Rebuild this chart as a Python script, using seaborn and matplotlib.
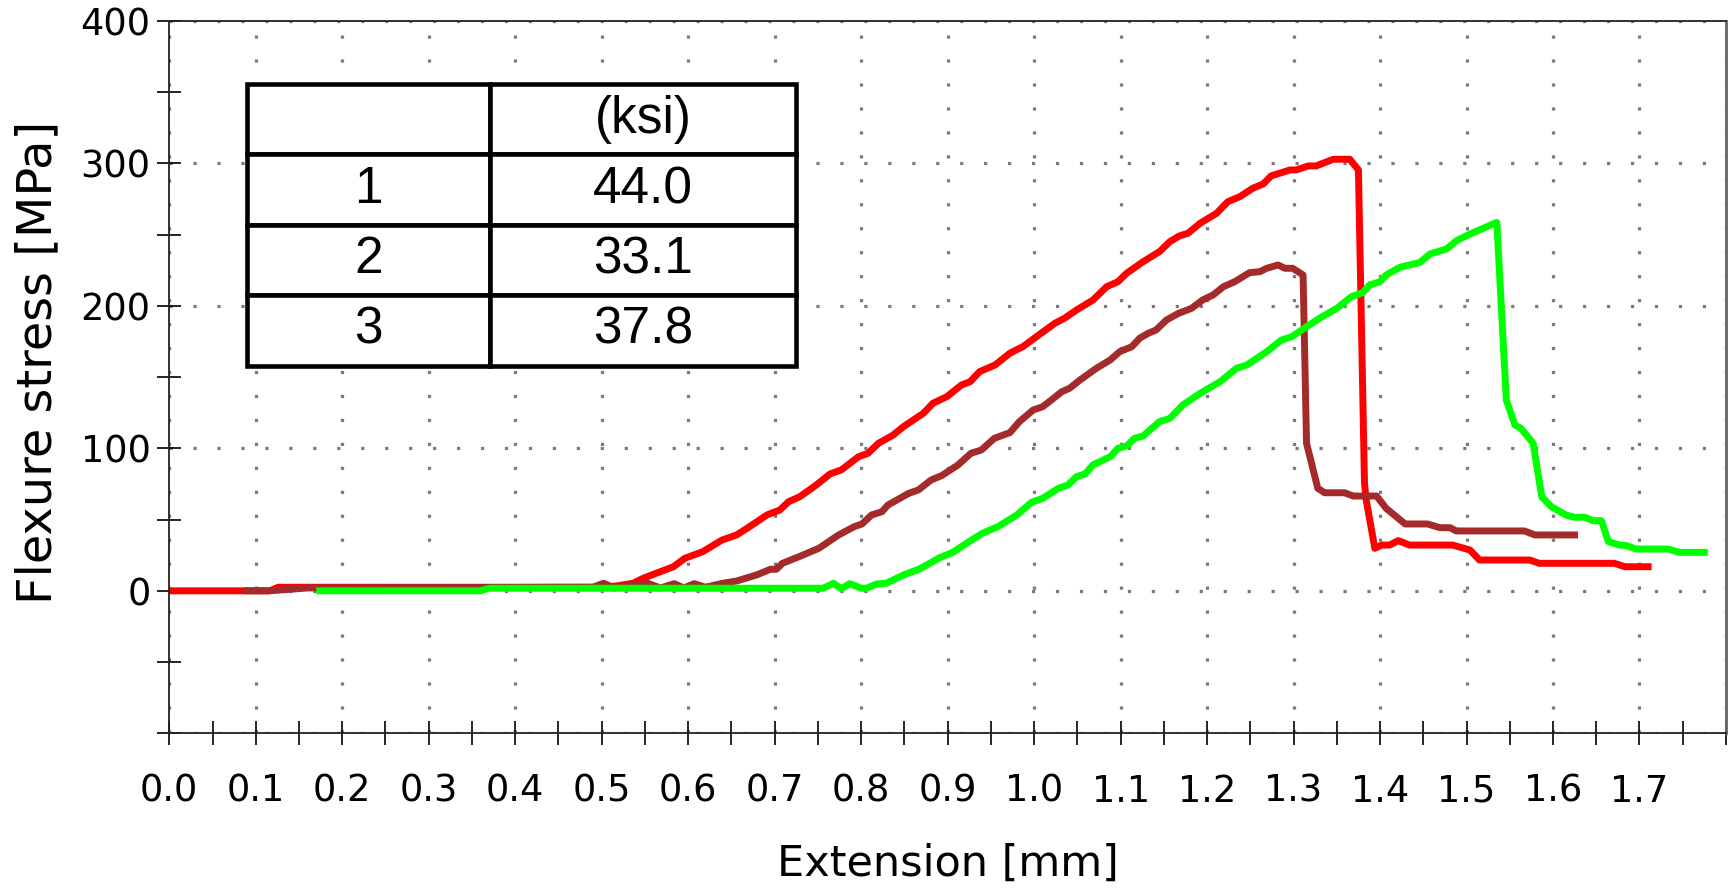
import numpy as np
import pandas as pd
import matplotlib
matplotlib.use("Agg")
import matplotlib.pyplot as plt
import seaborn as sns
from matplotlib.ticker import MultipleLocator

# ---------------- data ----------------
red_x = [0.000, 0.116, 0.126, 0.500, 0.517, 0.536, 0.548, 0.563, 0.583, 0.596,
         0.617, 0.639, 0.656, 0.671, 0.691, 0.706, 0.716, 0.729, 0.748, 0.764,
         0.777, 0.797, 0.808, 0.820, 0.837, 0.849, 0.872, 0.883, 0.899, 0.916,
         0.926, 0.937, 0.955, 0.972, 0.987, 1.009, 1.024, 1.035, 1.049, 1.068,
         1.084, 1.097, 1.107, 1.126, 1.145, 1.157, 1.168, 1.178, 1.192, 1.211,
         1.224, 1.238, 1.253, 1.265, 1.274, 1.296, 1.303, 1.317, 1.326, 1.346,
         1.365, 1.375, 1.382, 1.384, 1.394, 1.402, 1.411, 1.421, 1.434, 1.484,
         1.504, 1.515, 1.573, 1.584, 1.671, 1.683, 1.714]
red_y = [0, 0, 2.5, 2.5, 3.4, 5.3, 8.8, 12.3, 16.9, 22.8,
         27.5, 35.6, 39.2, 45.0, 53.2, 56.7, 62.5, 66.0, 74.2, 82.0,
         84.8, 94.1, 96.5, 103.5, 109.3, 115.2, 124.6, 131.6, 136.2, 144.4,
         146.7, 153.8, 158.5, 166.7, 171.3, 181.1, 187.7, 191.2, 197.0, 204.0,
         213.4, 216.9, 222.8, 230.9, 238.0, 245.0, 249.0, 250.9, 257.9, 264.9,
         273.0, 276.6, 282.5, 285.5, 291.1, 295.3, 295.3, 298.1, 298.1, 302.8,
         302.8, 295.3, 75.4, 63.7, 29.8, 32.1, 32.1, 35.2, 32.1, 32.1,
         28.6, 21.6, 21.6, 19.3, 19.3, 16.9, 16.9]

brown_x = [0.086, 0.115, 0.160, 0.490, 0.502, 0.515, 0.553, 0.568, 0.584, 0.595,
           0.607, 0.620, 0.640, 0.656, 0.679, 0.695, 0.702, 0.709, 0.728, 0.751,
           0.774, 0.792, 0.801, 0.812, 0.824, 0.831, 0.855, 0.866, 0.881, 0.893,
           0.912, 0.927, 0.939, 0.954, 0.972, 0.983, 0.999, 1.010, 1.020, 1.032,
           1.041, 1.053, 1.072, 1.088, 1.099, 1.113, 1.122, 1.132, 1.141, 1.153,
           1.167, 1.182, 1.195, 1.207, 1.219, 1.232, 1.249, 1.261, 1.269, 1.282,
           1.290, 1.299, 1.311, 1.315, 1.328, 1.336, 1.359, 1.369, 1.396, 1.407,
           1.421, 1.429, 1.455, 1.469, 1.481, 1.488, 1.567, 1.579, 1.629]
brown_y = [0, 0, 2.0, 2.5, 5.3, 2.0, 5.3, 2.0, 5.0, 2.0,
           5.0, 2.5, 5.3, 6.9, 11.1, 15.1, 15.1, 19.3, 23.9, 29.8,
           39.2, 45.0, 46.9, 53.2, 55.5, 60.2, 68.4, 70.7, 77.8, 80.8,
           88.3, 96.5, 98.8, 107.0, 111.0, 118.7, 126.9, 129.2, 133.9, 139.7,
           142.1, 147.9, 156.1, 162.0, 167.8, 171.3, 177.2, 180.7, 183.0, 190.0,
           194.7, 198.2, 204.1, 207.6, 213.4, 216.9, 223.2, 223.9, 226.3, 228.6,
           226.3, 226.3, 221.6, 103.5, 71.9, 68.8, 68.8, 66.5, 66.5, 57.9,
           50.9, 46.9, 46.9, 44.3, 44.3, 42.0, 42.0, 39.2, 39.2]

green_x = [0.170, 0.359, 0.370, 0.756, 0.768, 0.777, 0.787, 0.800, 0.806, 0.818,
           0.829, 0.849, 0.868, 0.891, 0.906, 0.924, 0.940, 0.958, 0.980, 0.997,
           1.010, 1.028, 1.039, 1.049, 1.059, 1.068, 1.088, 1.097, 1.107, 1.116,
           1.126, 1.145, 1.157, 1.172, 1.192, 1.215, 1.234, 1.246, 1.269, 1.286,
           1.298, 1.315, 1.330, 1.350, 1.367, 1.380, 1.388, 1.400, 1.407, 1.423,
           1.446, 1.458, 1.477, 1.489, 1.505, 1.535, 1.546, 1.556, 1.563, 1.577,
           1.587, 1.598, 1.615, 1.625, 1.637, 1.646, 1.656, 1.664, 1.677, 1.685,
           1.696, 1.733, 1.746, 1.779]
green_y = [0, 0, 1.8, 1.8, 5.3, 1.5, 5.0, 1.8, 1.8, 4.8,
           5.3, 11.1, 15.5, 23.3, 27.0, 34.2, 40.3, 45.0, 53.2, 62.1,
           64.9, 71.9, 74.2, 80.1, 82.0, 88.3, 94.1, 100.0, 101.6, 107.0,
           108.6, 118.7, 121.0, 130.4, 138.6, 146.7, 156.1, 158.5, 167.8, 176.0,
           178.3, 185.3, 191.2, 198.2, 206.4, 209.2, 214.6, 216.9, 221.6, 227.0,
           230.4, 236.4, 239.9, 245.9, 250.6, 258.5, 133.9, 116.3, 114.0, 103.5,
           66.0, 59.0, 53.2, 51.6, 51.6, 49.2, 49.2, 34.5, 32.1, 31.7,
           29.3, 29.3, 27.0, 27.0]

series_names = ["1", "2", "3"]
series_colors = ["#FF0000", "#A52A2A", "#00FF00"]

table_header = ["", "(ksi)"]
specimen_ids = ["1", "2", "3"]
strength_ksi = ["44.0", "33.1", "37.8"]

x_tick_values = [round(0.1 * i, 1) for i in range(19)]
x_tick_labels = ["0.0", "0.1", "0.2", "0.3", "0.4", "0.5", "0.6", "0.7", "0.8",
                 "0.9", "1.0", "1.1", "1.2", "1.3", "1.4", "1.5", "1.6", "1.7", ""]
y_tick_values = [-100, 0, 100, 200, 300, 400]
y_tick_labels = ["", "0", "100", "200", "300", "400"]

# ---------------- build frame ----------------
frames = []
for name, xs, ys in zip(series_names, [red_x, brown_x, green_x], [red_y, brown_y, green_y]):
    frames.append(pd.DataFrame({"Extension": xs, "Stress": ys, "Specimen": name}))
df = pd.concat(frames, ignore_index=True)

# ---------------- plot ----------------
sns.set_theme(style="white")
plt.rcParams['font.family'] = ['DejaVu Sans']
plt.rcParams.update({"text.color": "black", "axes.labelcolor": "black",
                     "xtick.color": "black", "ytick.color": "black"})

fig = plt.figure(figsize=(17.31, 8.89), dpi=100)
ax = fig.add_axes([0.0978, 0.1751, 0.8993, 0.8016])

sns.lineplot(data=df, x="Extension", y="Stress", hue="Specimen",
             palette=dict(zip(series_names, series_colors)),
             sort=False, estimator=None, legend=False, ax=ax,
             linewidth=5.0, solid_joinstyle="round", solid_capstyle="butt")

ax.set_xlim(0, 1.8)
ax.set_ylim(-100, 400)

ax.set_xticks(x_tick_values)
ax.set_xticklabels(x_tick_labels)
ax.set_yticks(y_tick_values)
ax.set_yticklabels(y_tick_labels)
ax.xaxis.set_minor_locator(MultipleLocator(0.05))
ax.yaxis.set_minor_locator(MultipleLocator(50))

ax.tick_params(which="both", direction="inout", length=17, width=1.2,
               color="black", labelcolor="black",
               bottom=True, left=True, top=False, right=False)
ax.tick_params(axis="x", which="major", labelsize=26.5, pad=20)
ax.tick_params(axis="y", which="major", labelsize=26.5, pad=5)

ax.grid(True, which="major", color="#7a7a7a", linestyle=(0, (1, 6.5)), linewidth=2.3)
ax.set_axisbelow(True)

for side, sp in ax.spines.items():
    sp.set_visible(True)
    sp.set_color("#222222")
    sp.set_linewidth(1.3)
ax.spines["right"].set_color("#666666")
ax.spines["right"].set_linewidth(2.0)

ax.set_xlabel("Extension [mm]", fontsize=31, color="black")
ax.xaxis.set_label_coords(0.5, -0.154)
ax.set_ylabel("Flexure stress [MPa]", fontsize=34.5, color="black")
ax.yaxis.set_label_coords(-0.0696, 0.521)

cell_text = [[s, v] for s, v in zip(specimen_ids, strength_ksi)]
tbl = ax.table(cellText=cell_text, colLabels=table_header, cellLoc="center",
               colWidths=[0.4426, 0.5574], bbox=[0.0499, 0.5161, 0.3527, 0.395])
tbl.set_zorder(5)
tbl.auto_set_font_size(False)
tbl.set_fontsize(37)
for cell in tbl.get_celld().values():
    cell.set_linewidth(3.3)
    cell.set_edgecolor("black")
    cell.set_facecolor("white")
    cell.get_text().set_fontfamily("Liberation Sans")
    cell.get_text().set_fontsize(37)
    cell.get_text().set_color("black")

fig.savefig("out.png", dpi=100)
